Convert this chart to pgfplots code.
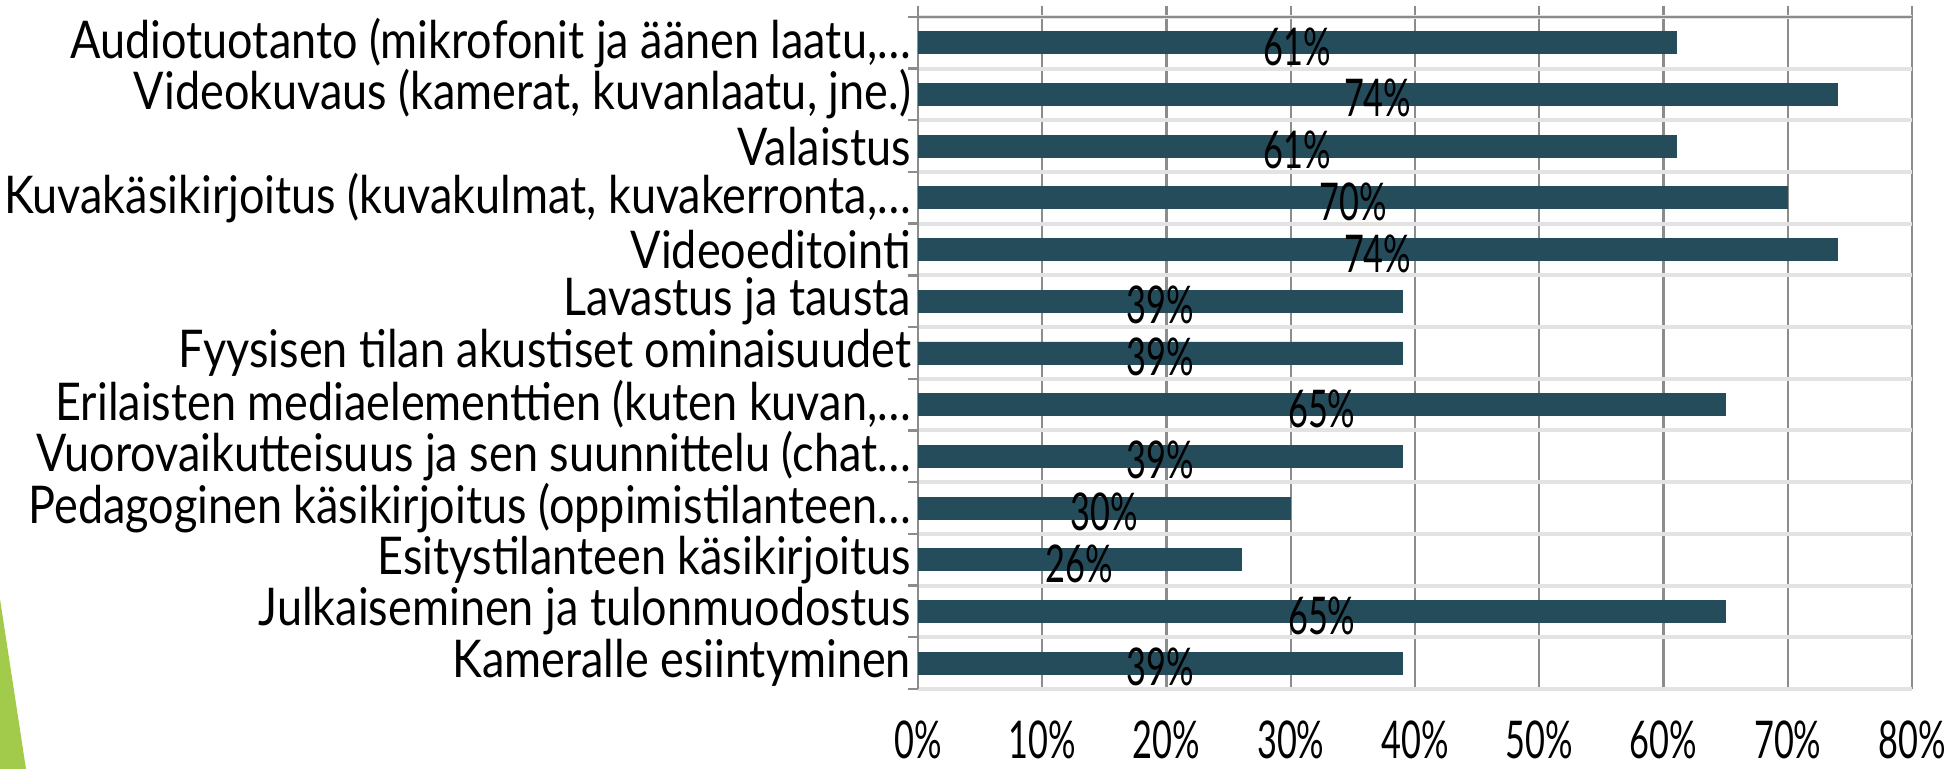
\documentclass[border=0pt]{standalone}
\usepackage{pgfplots}
\pgfplotsset{compat=1.18}
\usepackage{fontspec}
\setmainfont[FakeStretch=0.865]{Lato}
\newfontfamily\numfont[FakeStretch=0.66]{Lato}
\definecolor{barc}{HTML}{244C5A}
\definecolor{grn}{HTML}{A3CB4B}
\definecolor{gridc}{HTML}{8C8C8C}
\definecolor{hgrid}{HTML}{E3E3E3}
\begin{document}
\begin{tikzpicture}
\useasboundingbox (0,0) rectangle (977pt,384.5pt);
\fill[grn] (0,0) -- (13pt,0) -- (0,85pt) -- cycle;
\begin{axis}[
  at={(459pt,40pt)}, anchor=south west,
  scale only axis, width=497pt, height=341.5pt,
  xbar, bar width=11pt,
  xmin=0, xmax=80, ymin=-0.71, ymax=12.5, y dir=reverse,
  axis lines*=left,
  x axis line style={draw=none},
  y axis line style={gridc, line width=1.2pt},
  xtick={0,10,...,80},
  xticklabel={\pgfmathprintnumber{\tick}\%},
  /pgf/number format/assume math mode=true,
  xticklabel style={font=\numfont\fontsize{26}{30}\selectfont, text=black, inner sep=0pt, yshift=-15.5pt},
  ytick={0,...,12},
  yticklabels={
    {Audiotuotanto (mikrofonit ja äänen laatu,…},
    {Videokuvaus (kamerat, kuvanlaatu, jne.)},
    {Valaistus},
    {Kuvakäsikirjoitus (kuvakulmat, kuvakerronta,…},
    {Videoeditointi},
    {Lavastus ja tausta},
    {Fyysisen tilan akustiset ominaisuudet},
    {Erilaisten mediaelementtien (kuten kuvan,…},
    {Vuorovaikutteisuus ja sen suunnittelu (chat…},
    {Pedagoginen käsikirjoitus (oppimistilanteen…},
    {Esitystilanteen käsikirjoitus},
    {Julkaiseminen ja tulonmuodostus},
    {Kameralle esiintyminen}},
  yticklabel style={font=\fontsize{26}{30}\selectfont, text=black},
  minor ytick={-0.5,0.5,...,12.5},
  major tick length=0pt, minor tick length=5pt, tick align=outside,
  minor tick style={gridc, line width=1.2pt},
  xmajorgrids, major grid style={gridc, line width=1.2pt},
  yminorgrids, minor grid style={hgrid, line width=2pt},
  nodes near coords={\pgfmathprintnumber{\pgfplotspointmeta}\%},
  point meta=x,
  visualization depends on={rawx \as \rawx},
  every node near coord/.append style={anchor=center, text=black,
    font=\numfont\fontsize{26}{30}\selectfont,
    shift={(axis direction cs:-\rawx/2,0)}, yshift=-2pt},
]
\addplot[fill=barc, draw=barc] coordinates {
(61,0) (74,1) (61,2) (70,3) (74,4) (39,5) (39,6) (65,7) (39,8) (30,9) (26,10) (65,11) (39,12)};
\draw[gridc, line width=1.2pt] (axis cs:0,-0.5) -- (axis cs:80,-0.5);
\end{axis}
\end{tikzpicture}
\end{document}
